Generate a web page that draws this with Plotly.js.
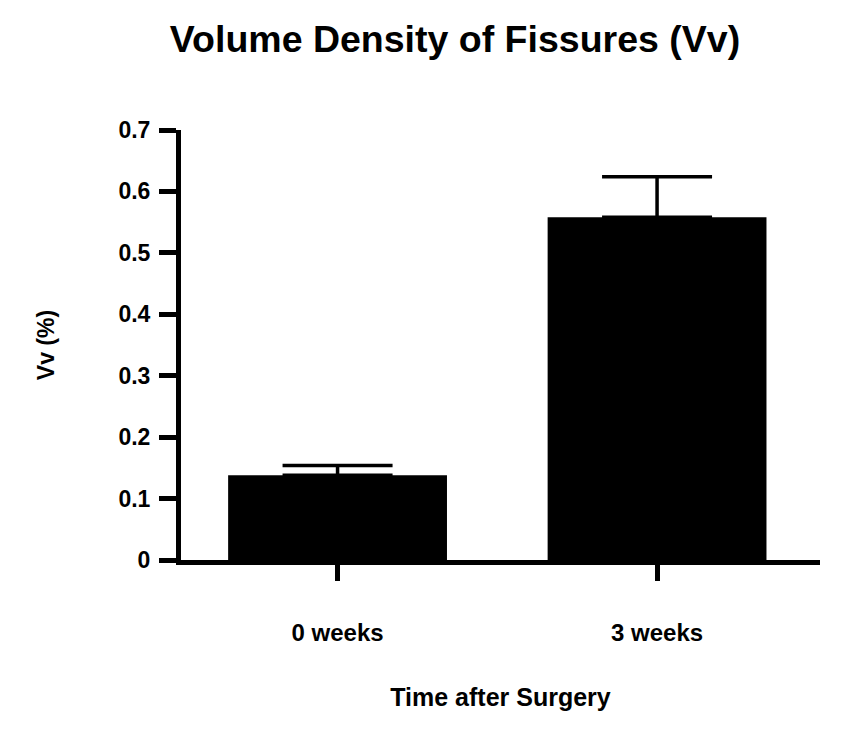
<!DOCTYPE html>
<html>
<head>
<meta charset="utf-8">
<script src="https://cdn.plot.ly/plotly-3.0.1.min.js"></script>
<style>html,body{margin:0;padding:0;background:#fff;}#chart{width:848px;height:729px;}</style>
</head>
<body>
<div id="chart"></div>
<script>
const categories = ["0 weeks", "3 weeks"];
const values = [0.138, 0.558];
const errors = [0.016, 0.066];
const yTicks = [0, 0.1, 0.2, 0.3, 0.4, 0.5, 0.6, 0.7];
const yTickLabels = ["0", "0.1", "0.2", "0.3", "0.4", "0.5", "0.6", "0.7"];

const FONT = "Liberation Sans, Arial, Helvetica, sans-serif";

const trace = {
  type: "bar",
  x: categories,
  y: values,
  width: 0.685,
  marker: { color: "#000000", line: { width: 0 } },
  error_y: { type: "data", array: errors, symmetric: false, arrayminus: [0, 0], color: "#000000", thickness: 3.5, width: 55 },
  hoverinfo: "x+y"
};

const layout = {
  width: 848,
  height: 729,
  paper_bgcolor: "#ffffff",
  plot_bgcolor: "#ffffff",
  margin: { l: 181, r: 28, t: 130, b: 169, pad: 0 },
  showlegend: false,
  font: { family: FONT, color: "#000000" },
  title: {
    text: "<b>Volume Density of Fissures (Vv)</b>",
    font: { family: FONT, size: 37.5, color: "#000000" },
    x: 455 / 848, xanchor: "center", xref: "container",
    y: 1 - 39 / 729, yanchor: "middle", yref: "container"
  },
  xaxis: {
    type: "category",
    range: [-0.49, 1.51],
    showgrid: false,
    zeroline: false,
    showline: true,
    linecolor: "#000000",
    linewidth: 5,
    ticks: "outside",
    ticklen: 16,
    tickwidth: 5,
    tickcolor: "#000000",
    ticklabelstandoff: 31,
    tickfont: { family: FONT, size: 24, color: "#000000", weight: "bold" },
    title: { text: "<b>Time after Surgery</b>", font: { family: FONT, size: 25, color: "#000000" }, standoff: 45 },
    fixedrange: true
  },
  yaxis: {
    range: [0, 0.7],
    tickvals: yTicks,
    ticktext: yTickLabels,
    showgrid: false,
    zeroline: false,
    showline: true,
    linecolor: "#000000",
    linewidth: 5,
    ticks: "outside",
    ticklen: 17,
    tickwidth: 5,
    tickcolor: "#000000",
    ticklabelstandoff: 4,
    tickfont: { family: FONT, size: 23, color: "#000000", weight: "bold" },
    title: { text: "<b>Vv (%)</b>", font: { family: FONT, size: 23, color: "#000000" }, standoff: 59 },
    fixedrange: true
  }
};

Plotly.newPlot("chart", [trace], layout, { displayModeBar: false, staticPlot: true });
</script>
</body>
</html>
